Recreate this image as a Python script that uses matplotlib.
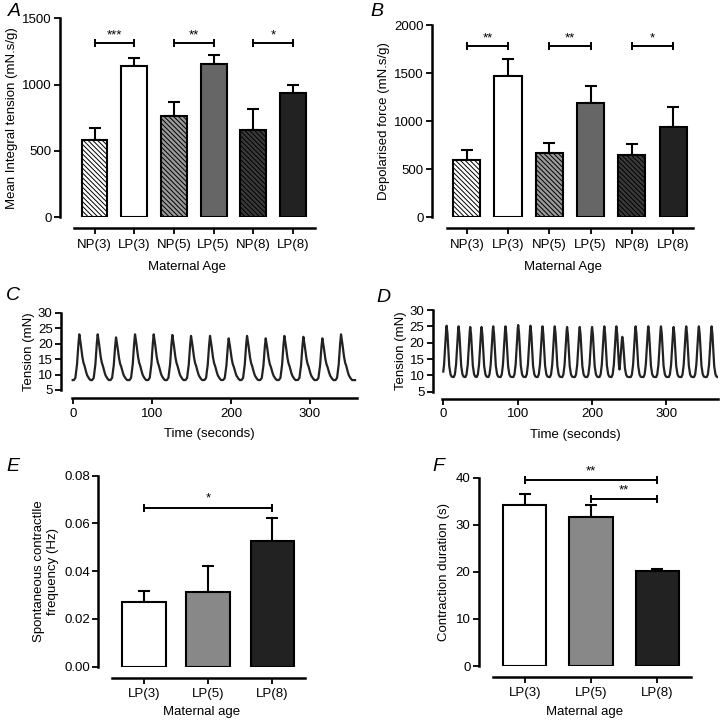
import numpy as np
import matplotlib.pyplot as plt

plt.rcParams['font.family'] = ['Liberation Sans', 'DejaVu Sans']
plt.rcParams['font.size'] = 9.5
plt.rcParams['hatch.linewidth'] = 0.7

# ---- data ----
groups6 = ["NP(3)", "LP(3)", "NP(5)", "LP(5)", "NP(8)", "LP(8)"]
tension_mean = [580, 1140, 760, 1155, 655, 935]
tension_sem = [95, 62, 110, 70, 160, 62]
tension_stars = ["***", "**", "*"]

depol_mean = [595, 1470, 665, 1185, 650, 943]
depol_sem = [105, 173, 105, 180, 115, 208]
depol_stars = ["**", "**", "*"]

groups3 = ["LP(3)", "LP(5)", "LP(8)"]
freq_mean = [0.0272, 0.0311, 0.0526]
freq_sem = [0.0046, 0.0112, 0.0098]

dur_mean = [34.3, 31.6, 20.2]
dur_sem = [2.3, 2.5, 0.4]

# example traces: peak times (s) and peak tension (mN)
c_peak_t = [8.4, 31.6, 54.8, 78.8, 102.4, 126.0, 149.6, 173.6, 197.2, 220.4,
            244.0, 267.6, 291.6, 315.6, 339.2]
c_peak_y = [23.0, 23.0, 22.0, 23.0, 23.0, 22.8, 22.5, 22.5, 21.7, 22.5,
            21.7, 22.5, 22.2, 21.7, 23.0]
c_base = 8.2
# single contraction profile (time from peak, fraction of peak height)
c_shape_dt = [-7.0, -5.0, -3.0, -1.5, 0.0, 1.5, 3.4, 5.0, 6.3, 8.0, 9.7, 12.0, 14.0]
c_shape_f = [0.0, 0.05, 0.32, 0.73, 1.0, 0.83, 0.55, 0.39, 0.33, 0.21, 0.11, 0.04, 0.0]

d_peak_t = [4.5, 20.6, 36.3, 51.5, 67.2, 83.7, 100.8, 117.3, 133.5, 150.0,
            166.6, 183.6, 200.2, 216.7, 232.9, 240.9, 258.8, 275.9, 292.9,
            309.9, 326.9, 343.9, 361.0]
d_peak_y = [25.2, 25.0, 24.8, 24.8, 25.0, 25.0, 25.4, 25.2, 25.0, 25.0,
            24.8, 24.8, 24.8, 25.0, 25.0, 21.8, 25.0, 25.0, 25.0, 24.8,
            25.0, 25.0, 25.0]
d_base = 9.5
d_shape_dt = [-6.5, -5.0, -3.5, -2.0, -1.0, 0.0, 1.0, 2.0, 3.5, 5.0, 6.5, 8.0]
d_shape_f = [0.0, 0.05, 0.22, 0.6, 0.88, 1.0, 0.88, 0.6, 0.22, 0.06, 0.01, 0.0]

LW = 1.8


def style_axes(ax, xbounds, offset=8, xpad=2):
    for s in ['top', 'right']:
        ax.spines[s].set_visible(False)
    ax.spines['left'].set_linewidth(LW)
    ax.spines['bottom'].set_linewidth(LW)
    ax.spines['bottom'].set_position(('outward', offset))
    ax.spines['bottom'].set_bounds(*xbounds)
    ax.tick_params(direction='out', length=4, width=1.3, pad=2, labelsize=9.5)
    ax.tick_params(axis='x', pad=xpad)


def bar_panel(ax, labels, mean, sem, colors, hatches, ylim, yticks, xlim, xbounds,
              width, xpad=4):
    x = np.arange(len(labels))
    for i in range(len(labels)):
        ax.bar(x[i], mean[i], width=width, color=colors[i], edgecolor='black',
               linewidth=1.5, hatch=hatches[i], zorder=2)
        ax.errorbar(x[i], mean[i], yerr=[[0], [sem[i]]], fmt='none', ecolor='black',
                    elinewidth=1.5, capsize=4, capthick=1.5, zorder=1)
    ax.set_xlim(*xlim)
    ax.set_ylim(*ylim)
    ax.set_yticks(yticks)
    ax.set_xticks(x)
    ax.set_xticklabels(labels)
    style_axes(ax, xbounds, xpad=xpad)
    return x


def bracket(ax, x1, x2, y, text, dy):
    ax.plot([x1, x2], [y, y], color='black', lw=1.4, marker='|', ms=6, mew=1.4,
            clip_on=False)
    ax.text((x1 + x2) / 2, y + dy, text, ha='center', va='bottom', fontsize=9.5)


def trace(peak_t, peak_y, base, dts, fs, t_end):
    t = np.arange(0, t_end, 0.1)
    y = np.full_like(t, base)
    for pt, py in zip(peak_t, peak_y):
        f = np.interp(t - pt, dts, fs, left=0, right=0)
        y = np.maximum(y, base + f * (py - base))
    return t, y


fig = plt.figure(figsize=(7.2, 7.23), dpi=100)

colors6 = ['white', 'white', '#999999', '#666666', '#3a3a3a', '#222222']
hatch6 = ['\\' * 7, None, '\\' * 7, None, '\\' * 7, None]

# A
axA = fig.add_axes([0.0833, 0.6995, 0.354, 0.2752])
bar_panel(axA, groups6, tension_mean, tension_sem, colors6, hatch6, (0, 1500),
          [0, 500, 1000, 1500], (-0.87, 5.55), (-0.52, 5.55), 0.65)
axA.set_ylabel("Mean Integral tension (mN.s/g)", labelpad=3)
axA.set_xlabel("Maternal Age", labelpad=7)
for k, s in enumerate(tension_stars):
    bracket(axA, 2 * k, 2 * k + 1, 1317, s, 10)

# B
axB = fig.add_axes([0.5996, 0.6995, 0.3634, 0.2659])
bar_panel(axB, groups6, depol_mean, depol_sem, colors6, hatch6, (0, 2000),
          [0, 500, 1000, 1500, 2000], (-0.85, 5.49), (-0.47, 5.49), 0.66)
axB.set_ylabel("Depolarised force (mN.s/g)", labelpad=3)
axB.set_xlabel("Maternal Age", labelpad=7)
for k, s in enumerate(depol_stars):
    bracket(axB, 2 * k, 2 * k + 1, 1785, s, 10)

# C
axC = fig.add_axes([0.0847, 0.4606, 0.4107, 0.1069])
t, y = trace(c_peak_t, c_peak_y, c_base, c_shape_dt, c_shape_f, 357)
axC.plot(t, y, color='#222222', lw=1.6)
axC.set_xlim(-14.8, 359)
axC.set_ylim(5, 30)
axC.set_yticks([5, 10, 15, 20, 25, 30])
axC.set_xticks([0, 100, 200, 300])
style_axes(axC, (-1.5, 359), offset=6, xpad=3)
axC.set_ylabel("Tension (mN)", labelpad=2)
axC.set_xlabel("Time (seconds)", labelpad=6)

# D
axD = fig.add_axes([0.601, 0.4582, 0.3966, 0.113])
t, y = trace(d_peak_t, d_peak_y, d_base, d_shape_dt, d_shape_f, 369)
axD.plot(t, y, color='#222222', lw=1.6)
axD.set_xlim(-14.2, 370)
axD.set_ylim(5, 30)
axD.set_yticks([5, 10, 15, 20, 25, 30])
axD.set_xticks([0, 100, 200, 300])
style_axes(axD, (-2, 370), offset=5, xpad=3)
axD.set_ylabel("Tension (mN)", labelpad=2)
axD.set_xlabel("Time (seconds)", labelpad=6)

colors3 = ['white', '#888888', '#222222']

# E
axE = fig.add_axes([0.1365, 0.0779, 0.2871, 0.2641])
bar_panel(axE, groups3, freq_mean, freq_sem, colors3, [None] * 3, (0, 0.08),
          [0, 0.02, 0.04, 0.06, 0.08], (-0.71, 2.51), (-0.5, 2.51), 0.675, xpad=3)
axE.yaxis.set_major_formatter(plt.FormatStrFormatter('%.2f'))
axE.set_ylabel("Spontaneous contractlle\nfrequency (Hz)", labelpad=4)
axE.set_xlabel("Maternal age", labelpad=5)
bracket(axE, 0, 2, 0.0666, "*", 0.0012)

# F
axF = fig.add_axes([0.665, 0.0788, 0.2943, 0.2605])
bar_panel(axF, groups3, dur_mean, dur_sem, colors3, [None] * 3, (0, 40),
          [0, 10, 20, 30, 40], (-0.69, 2.5), (-0.48, 2.5), 0.65, xpad=3)
axF.set_ylabel("Contraction duration (s)", labelpad=4)
axF.set_xlabel("Maternal age", labelpad=5)
bracket(axF, 0, 2, 39.5, "**", 0.6)
bracket(axF, 1, 2, 35.5, "**", 0.6)

# panel letters
for lab, px, py in [("A", 8, 12), ("B", 370, 12), ("C", 6, 296), ("D", 376, 297),
                    ("E", 6, 466), ("F", 432, 466)]:
    fig.text(px / 720, 1 - py / 723, lab, fontsize=14, style='italic', va='center', ha='left')

fig.savefig("out.png", dpi=100)
